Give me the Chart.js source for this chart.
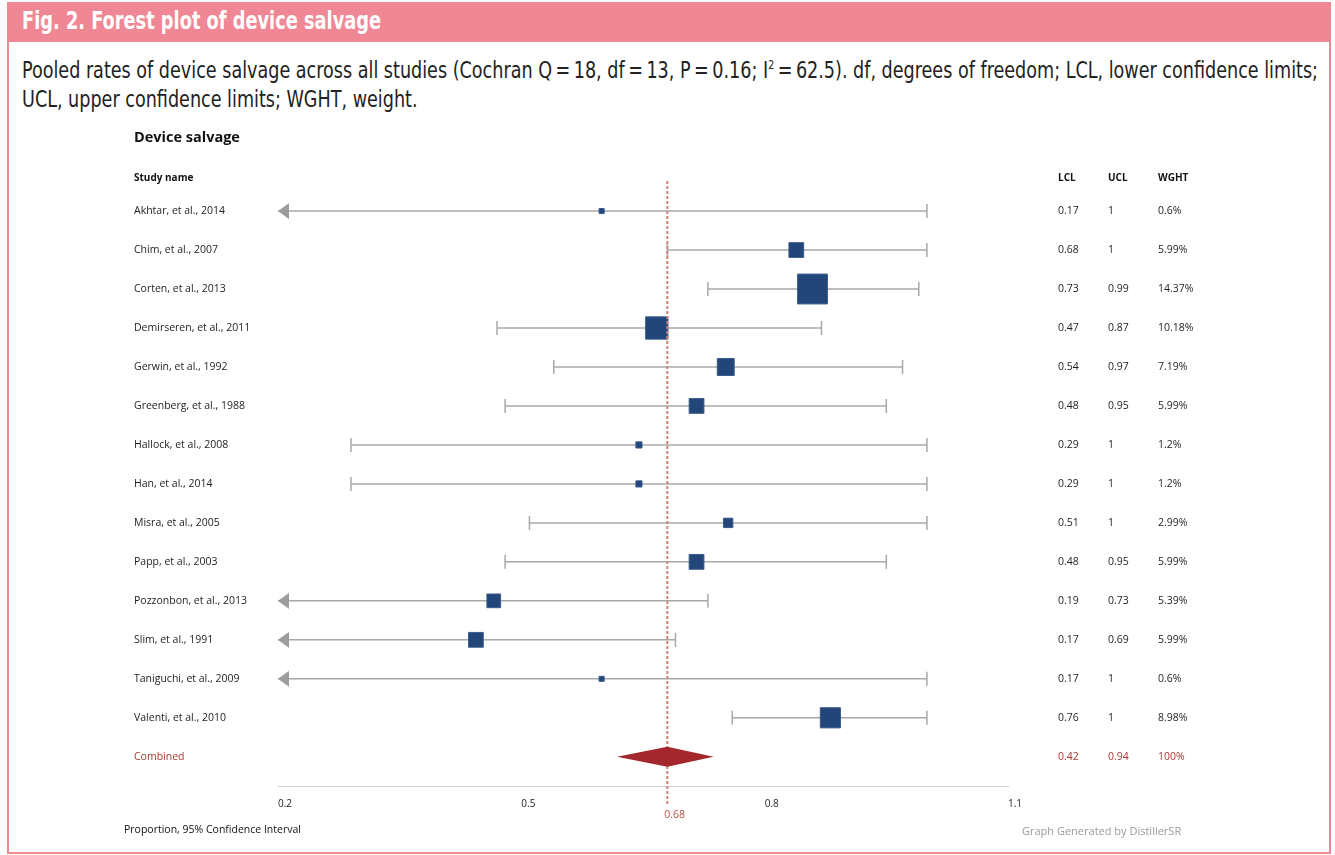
<!DOCTYPE html>
<html>
<head>
<meta charset="utf-8">
<script src="https://cdn.jsdelivr.net/npm/chart.js@4.4.0/dist/chart.umd.min.js"></script>
<style>
  html, body { margin: 0; padding: 0; background: #fff; }
  body { width: 1335px; height: 855px; position: relative; overflow: hidden; }
  #frame { position: absolute; left: 7px; top: 2px; width: 1324px; height: 852px; box-sizing: border-box;
           border: 2px solid #f08794; border-top: none; }
  #head { position: absolute; left: 7px; top: 2px; width: 1324px; height: 40px; background: #f08794; }
  #headText { position: absolute; left: 22px; top: 6px; height: 40px; line-height: 40px; color: #fff; white-space: nowrap;
              font: bold 25px "DejaVu Sans Condensed", "DejaVu Sans", sans-serif; font-stretch: condensed;
              transform-origin: 0 50%; }
  .cap { position: absolute; left: 22px; color: #222; white-space: nowrap; line-height: 29px;
         font: 22.5px "DejaVu Sans Condensed", "DejaVu Sans", sans-serif; font-stretch: condensed; transform-origin: 0 50%; }
  .cap sup { font-size: 12px; vertical-align: 9px; line-height: 0; }
  #plot { position: absolute; left: 0; top: 0; width: 1335px; height: 855px; }
</style>
</head>
<body>
<div id="frame"></div>
<div id="head"></div>
<div id="headText">Fig. 2. Forest plot of device salvage</div>
<div class="cap" id="cap1" style="top:57px">Pooled rates of device salvage across all studies (Cochran Q&#8201;=&#8201;18, df&#8201;=&#8201;13, P&#8201;=&#8201;0.16; I<sup>2</sup>&#8201;=&#8201;62.5). df, degrees of freedom; LCL, lower confidence limits;</div>
<div class="cap" id="cap2" style="top:86px">UCL, upper confidence limits; WGHT, weight.</div>
<div id="plot"><canvas id="forest"></canvas></div>
<script>
// --- data ---
const studies = ['Akhtar, et al., 2014', 'Chim, et al., 2007', 'Corten, et al., 2013', 'Demirseren, et al., 2011',
  'Gerwin, et al., 1992', 'Greenberg, et al., 1988', 'Hallock, et al., 2008', 'Han, et al., 2014',
  'Misra, et al., 2005', 'Papp, et al., 2003', 'Pozzonbon, et al., 2013', 'Slim, et al., 1991',
  'Taniguchi, et al., 2009', 'Valenti, et al., 2010'];
const estimates = [0.599, 0.839, 0.859, 0.667, 0.752, 0.716, 0.645, 0.645, 0.755, 0.716, 0.466, 0.444, 0.599, 0.881];
const lcl = [0.17, 0.68, 0.73, 0.47, 0.54, 0.48, 0.29, 0.29, 0.51, 0.48, 0.19, 0.17, 0.17, 0.76];
const ucl = [1, 1, 0.99, 0.87, 0.97, 0.95, 1, 1, 1, 0.95, 0.73, 0.69, 1, 1];
const weights = [0.6, 5.99, 14.37, 10.18, 7.19, 5.99, 1.2, 1.2, 2.99, 5.99, 5.39, 5.99, 0.6, 8.98];

const pooledLabel = 'Combined';
const pooledEstimate = 0.68;
const pooledDiamond = [0.618, 0.737];   // drawn extent of the diamond
const pooledLcl = 0.42;
const pooledUcl = 0.94;
const pooledWeight = 100;

const xTicks = [0.2, 0.5, 0.8, 1.1];
const xMin = 0.2, xMax = 1.1;

// squeeze the html texts to the widths they have in the figure
function fitWidth(ids, target) {
  const w = document.getElementById(ids[0]).getBoundingClientRect().width;
  const k = target / w;
  ids.forEach(id => { document.getElementById(id).style.transform = 'scaleX(' + k + ')'; });
}
fitWidth(['headText'], 359);
fitWidth(['cap1', 'cap2'], 1296);

// --- styling ---
const FONT = '"Open Sans", "Liberation Sans", sans-serif';
const ROW_RED = '#a6392b';
const CI_GREY = '#a8a8a8';
const BOX_BLUE = '#23467a';

const rowLabels = studies.concat([pooledLabel]);
const rowIdx = rowLabels.map((_, i) => i);
const pooledRow = studies.length;

const fmt = v => String(v);
const lclText = lcl.map(fmt).concat([fmt(pooledLcl)]);
const uclText = ucl.map(fmt).concat([fmt(pooledUcl)]);
const wghtText = weights.map(w => fmt(w) + '%').concat([fmt(pooledWeight) + '%']);

// left-pointing arrow, tip at image centre
const arrow = document.createElement('canvas');
arrow.width = 24; arrow.height = 18;
(() => {
  const c = arrow.getContext('2d');
  c.fillStyle = '#9c9c9c';
  c.beginPath(); c.moveTo(12, 9); c.lineTo(23, 1); c.lineTo(23, 17); c.closePath(); c.fill();
})();

const ciSets = studies.map((s, i) => ({
  type: 'line',
  data: [{ x: Math.max(lcl[i], xMin), y: i }, { x: ucl[i], y: i }],
  borderColor: CI_GREY, borderWidth: 1.5, pointRadius: 0, clip: false, order: 5
}));

const caps = [];
studies.forEach((s, i) => {
  if (lcl[i] >= xMin) caps.push({ x: lcl[i], y: i });
  caps.push({ x: ucl[i], y: i });
});
const arrows = studies.map((s, i) => ({ x: xMin, y: i })).filter((p, i) => lcl[i] < xMin);

const boxSide = weights.map(w => 4 + 1.8 * w);

function rowColor(ctx) {
  return ctx.index === pooledRow ? ROW_RED : '#1e1e1e';
}

function rowAxis(texts, weight, width, pad, align) {
  return {
    type: 'linear', position: align, weight: weight,
    min: -0.771, max: 14.75, reverse: true,
    grid: { display: false, drawTicks: false }, border: { display: false },
    afterBuildTicks: s => { s.ticks = rowIdx.map(v => ({ value: v })); },
    afterFit: s => { s.width = width; },
    ticks: {
      padding: pad, crossAlign: align === 'left' ? 'far' : 'near', autoSkip: false,
      font: { family: FONT, size: 10.5 }, color: rowColor,
      callback: v => texts[v]
    }
  };
}

const overlay = {
  id: 'forestOverlay',
  afterDatasetsDraw(chart) {
    const { ctx, chartArea, scales } = chart;
    const x = scales.x, y = scales.y;
    const px = x.getPixelForValue(pooledEstimate);
    // dashed reference line
    ctx.save();
    ctx.strokeStyle = '#d5806f';
    ctx.lineWidth = 2;
    ctx.setLineDash([3, 2]);
    ctx.beginPath();
    ctx.moveTo(px, chartArea.top);
    ctx.lineTo(px, chartArea.bottom + 19);
    ctx.stroke();
    ctx.setLineDash([]);
    // pooled diamond
    const py = y.getPixelForValue(pooledRow);
    ctx.fillStyle = '#a3272d';
    ctx.beginPath();
    ctx.moveTo(x.getPixelForValue(pooledDiamond[0]), py);
    ctx.lineTo(px, py - 10);
    ctx.lineTo(x.getPixelForValue(pooledDiamond[1]), py);
    ctx.lineTo(px, py + 10);
    ctx.closePath();
    ctx.fill();
    // label under the reference line
    ctx.fillStyle = '#b4503f';
    ctx.font = '10.5px ' + FONT;
    ctx.textBaseline = 'middle';
    ctx.textAlign = 'left';
    ctx.fillText(String(pooledEstimate), px - 3, chartArea.bottom + 29);
    ctx.restore();
  },
  afterDraw(chart) {
    const { ctx, chartArea, scales } = chart;
    ctx.save();
    ctx.textBaseline = 'middle';
    ctx.textAlign = 'left';
    ctx.fillStyle = '#111';
    ctx.font = 'bold 14.5px ' + FONT;
    ctx.fillText('Device salvage', scales.y.left, 138);
    ctx.font = 'bold 10px ' + FONT;
    const hy = chartArea.top - 3;
    ctx.fillText('Study name', scales.y.left, hy);
    ctx.fillText('LCL', scales.lcl.left + 50, hy);
    ctx.fillText('UCL', scales.ucl.left, hy);
    ctx.fillText('WGHT', scales.wght.left, hy);
    ctx.font = '10.5px ' + FONT;
    ctx.fillText('Proportion, 95% Confidence Interval', scales.y.left - 10, chartArea.bottom + 44);
    ctx.fillStyle = '#9a9a9a';
    ctx.font = '11px ' + FONT;
    ctx.fillText('Graph Generated by DistillerSR', 1022, chartArea.bottom + 46);
    ctx.restore();
  }
};

new Chart(document.getElementById('forest'), {
  type: 'scatter',
  data: {
    datasets: ciSets.concat([
      {
        data: caps, pointStyle: 'line', rotation: 90, pointRadius: 7,
        borderColor: CI_GREY, borderWidth: 1.5, clip: false, order: 4
      },
      {
        data: arrows, pointStyle: arrow, pointRadius: 9, clip: false, order: 3
      },
      {
        data: estimates.map((v, i) => ({ x: v, y: i })),
        pointStyle: 'rect', pointRadius: boxSide.map(s => s / Math.SQRT2),
        backgroundColor: BOX_BLUE, borderColor: '#3c5b8b', borderWidth: 1, clip: false, order: 1
      }
    ])
  },
  options: {
    responsive: true, maintainAspectRatio: false, animation: false, events: [],
    layout: { padding: { left: 134, right: 117, top: 181, bottom: 33 } },
    plugins: { legend: { display: false }, tooltip: { enabled: false } },
    scales: {
      x: {
        type: 'linear', min: xMin, max: xMax,
        afterBuildTicks: s => { s.ticks = xTicks.map(v => ({ value: v })); },
        grid: { display: false, drawTicks: false },
        border: { display: true, color: '#cfcfcf', width: 1 },
        ticks: { align: 'start', padding: 12, font: { family: FONT, size: 10 }, color: '#1e1e1e',
                 callback: v => String(v) }
      },
      y: rowAxis(rowLabels, 0, 144, 0, 'left'),
      lcl: rowAxis(lclText, 1, 100, 50, 'right'),
      ucl: rowAxis(uclText, 2, 50, 0, 'right'),
      wght: rowAxis(wghtText, 3, 60, 0, 'right')
    }
  },
  plugins: [overlay]
});
</script>
</body>
</html>
